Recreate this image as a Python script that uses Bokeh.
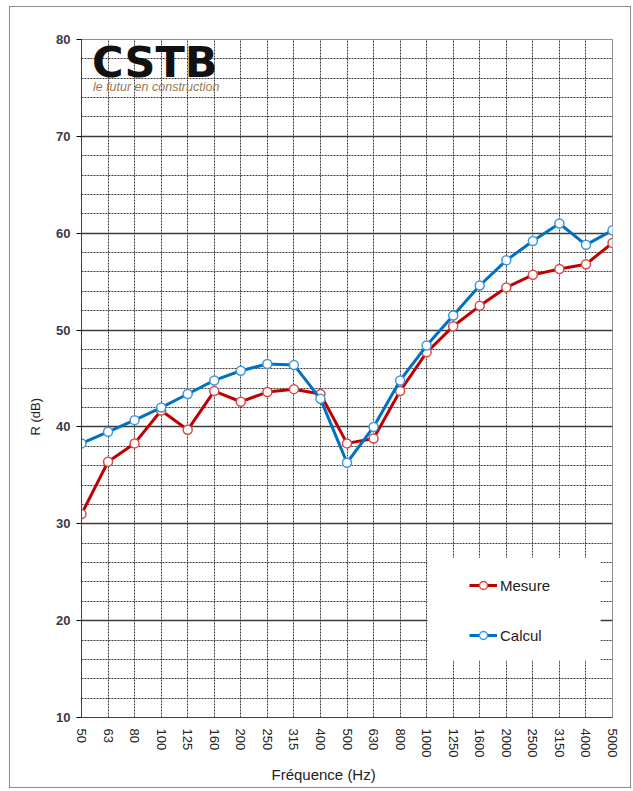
from bokeh.plotting import figure
from bokeh.models import (Range1d, FixedTicker, Legend, LegendItem, Label, BoxAnnotation, Title)
from bokeh.embed import file_html
from bokeh.resources import INLINE

freqs = ["50", "63", "80", "100", "125", "160", "200", "250", "315", "400", "500",
         "630", "800", "1000", "1250", "1600", "2000", "2500", "3150", "4000", "5000"]
mesure = [31.0, 36.4, 38.3, 41.7, 39.7, 43.7, 42.6, 43.6, 43.9, 43.4, 38.3,
          38.8, 43.7, 47.7, 50.4, 52.5, 54.4, 55.7, 56.3, 56.8, 59.0]
calcul = [38.3, 39.5, 40.7, 42.0, 43.4, 44.8, 45.8, 46.5, 46.4, 42.9, 36.3,
          40.0, 44.8, 48.4, 51.5, 54.6, 57.2, 59.2, 61.0, 58.8, 60.3]
y_major = [10, 20, 30, 40, 50, 60, 70, 80]
y_minor = [v for v in range(10, 81, 2) if v % 10 != 0]

xs = list(range(len(freqs)))

p = figure(width=622, height=782, x_range=Range1d(0, len(freqs) - 1), y_range=Range1d(10, 80),
           output_backend="svg", toolbar_location=None,
           min_border_left=71, min_border_right=20, min_border_top=32, min_border_bottom=72)
p.styles = {"border": "1px solid #8c8c8c", "margin-left": "9px", "margin-top": "6px"}
p.background_fill_color = "white"
p.border_fill_color = "white"
p.outline_line_color = "#8c8c8c"
p.outline_line_width = 1

FONT = "Liberation Sans"

# x axis
p.xaxis.ticker = FixedTicker(ticks=xs)
p.xaxis.major_label_overrides = {i: f for i, f in enumerate(freqs)}
p.xaxis.major_label_orientation = "vertical"
p.xaxis.major_label_text_font = FONT
p.xaxis.major_label_text_font_size = "13px"
p.xaxis.major_label_text_color = "#222222"
p.xaxis.major_label_standoff = 11
p.xaxis.major_tick_out = 0
p.xaxis.major_tick_in = 0
p.xaxis.minor_tick_out = 0
p.xaxis.axis_line_color = "#404040"

# y axis
p.yaxis.ticker = FixedTicker(ticks=y_major, minor_ticks=y_minor)
p.yaxis.major_label_text_font = FONT
p.yaxis.major_label_text_font_size = "13px"
p.yaxis.major_label_text_font_style = "bold"
p.yaxis.major_label_text_color = "#3a3a4a"
p.yaxis.major_label_standoff = 6
p.yaxis.major_tick_out = 5
p.yaxis.major_tick_in = 0
p.yaxis.minor_tick_out = 0
p.yaxis.minor_tick_in = 0
p.yaxis.axis_line_color = "#404040"

# axis titles (off-centre, as in the reference)
p.add_layout(Title(text="Fréquence (Hz)", align="left", offset=190, standoff=7,
                   text_font=FONT, text_font_size="15px", text_font_style="normal",
                   text_color="#222222"), "below")
p.add_layout(Title(text="R (dB)", align="left", offset=282, standoff=21,
                   text_font=FONT, text_font_size="13px", text_font_style="normal",
                   text_color="#222222"), "left")

# grids
p.ygrid.grid_line_color = "#3c3c3c"
p.ygrid.grid_line_width = 1.3
p.ygrid.minor_grid_line_color = "#3c3c3c"
p.ygrid.minor_grid_line_dash = "2 1"
p.ygrid.minor_grid_line_width = 1
p.xgrid.grid_line_color = "#3c3c3c"
p.xgrid.grid_line_dash = "2 1"
p.xgrid.grid_line_width = 1

# series
r1 = p.line(xs, mesure, line_color="#c00000", line_width=3)
s1 = p.scatter(xs, mesure, marker="circle", size=9, fill_color="white",
               line_color="#d9484a", line_width=1.5)
r2 = p.line(xs, calcul, line_color="#0070c0", line_width=3)
s2 = p.scatter(xs, calcul, marker="circle", size=9, fill_color="white",
               line_color="#3d98dc", line_width=1.5)

# legend background and legend
box = BoxAnnotation(left=13.03, right=19.55, bottom=15.9, top=26.5,
                    fill_color="white", fill_alpha=1.0, line_color=None)
p.add_layout(box)

legend = Legend(items=[LegendItem(label="Mesure", renderers=[r1, s1]),
                       LegendItem(label="Calcul", renderers=[r2, s2])],
                location=(388, 72), padding=0, spacing=30, label_height=20,
                glyph_height=20, glyph_width=28, label_standoff=3,
                border_line_alpha=0, background_fill_alpha=0,
                label_text_font=FONT, label_text_font_size="15px",
                label_text_color="#222222")
p.add_layout(legend)

# logo
p.add_layout(Label(x=0.4, y=77.7, text="CSTB", text_font="DejaVu Sans",
                   text_font_style="bold", text_font_size="43px",
                   text_color="#111111", text_baseline="alphabetic"))
p.add_layout(Label(x=0.43, y=75.05, text="le futur en construction", text_font=FONT,
                   text_font_style="italic", text_font_size="12.5px",
                   text_color="#9a7752", text_baseline="alphabetic"))

open("out.html", "w").write(file_html(p, INLINE))
